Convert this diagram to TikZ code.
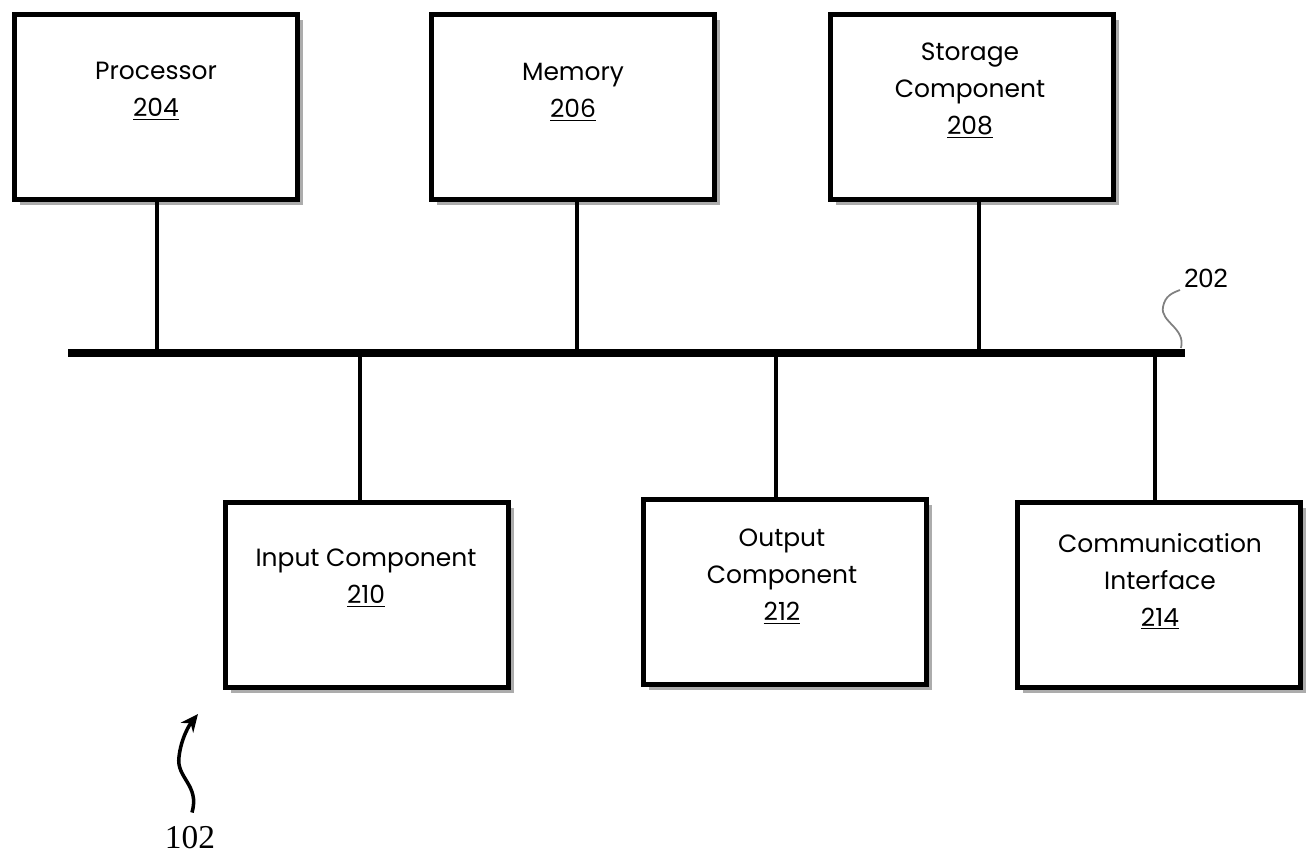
\documentclass[tikz,border=0pt]{standalone}
\usepackage{fontspec}
\setmainfont{Poppins}
\newfontfamily\refsans{Liberation Sans}
\newfontfamily\refserif{Liberation Serif}
\usetikzlibrary{shadows,arrows.meta}

\begin{document}
\begin{tikzpicture}[x=0.02cm,y=-0.02cm]
\tikzstyle{unit}=[draw,line width=3.1pt,fill=white,minimum width=5.66cm,minimum height=3.7cm,
  drop shadow={shadow xshift=2.9pt,shadow yshift=-2.9pt,fill=gray!65,opacity=1}]
\tikzstyle{lbl}=[align=center,inner sep=0pt,anchor=north,font=\fontsize{14.2}{21}\selectfont]
\tikzstyle{link}=[line width=2.4pt]
\useasboundingbox (0,0) rectangle (1313,862);

\node[unit] (proc) at (156,107) {};
\node[unit] (mem) at (573,107) {};
\node[unit] (stor) at (972,107) {};
\node[unit] (inp) at (367,595) {};
\node[unit] (outp) at (785,592) {};
\node[unit] (comm) at (1159,595) {};

\node[lbl] (proc-t) at (156,62) {Processor\\\underline{204}};
\node[lbl] (mem-t) at (573,63) {Memory\\\underline{206}};
\node[lbl] (stor-t) at (970,43) {Storage\\Component\\\underline{208}};
\node[lbl] (inp-t) at (366,549) {Input Component\\\underline{210}};
\node[lbl] (outp-t) at (782,529) {Output\\Component\\\underline{212}};
\node[lbl] (comm-t) at (1160,533) {Communication\\Interface\\\underline{214}};

\coordinate (busL) at (68,353);
\coordinate (busR) at (1185,353);
\draw[line width=4.6pt] (busL) -- (busR);

\coordinate (tap1) at (157,353);
\coordinate (tap2) at (577,353);
\coordinate (tap3) at (979,353);
\coordinate (tap4) at (360,353);
\coordinate (tap5) at (776,353);
\coordinate (tap6) at (1155,353);
\draw[link] (proc.south -| tap1) -- (tap1);
\draw[link] (mem.south -| tap2) -- (tap2);
\draw[link] (stor.south -| tap3) -- (tap3);
\draw[link] (tap4) -- (inp.north -| tap4);
\draw[link] (tap5) -- (outp.north -| tap5);
\draw[link] (tap6) -- (comm.north -| tap6);

% reference numerals
\node[font=\refsans\fontsize{15}{18}\selectfont] (bus-n) at (1206,278) {202};
\draw[gray,line width=1pt] (1181,348) .. controls (1186,328) and (1160,322) .. (1163,307)
  .. controls (1165,296) and (1172,293) .. (1180,290);
\node[font=\refserif\fontsize{19}{22}\selectfont] (dev-n) at (190,838) {102};
\draw[line width=2pt,-{Stealth[length=10pt,width=9pt]}] (dev-n.north) ++(2,-8) coordinate (dev-s)
  .. controls (200,785) and (176,778) .. (179,757) .. controls (181,738) and (190,724) .. (198,714);
\end{tikzpicture}
\end{document}
